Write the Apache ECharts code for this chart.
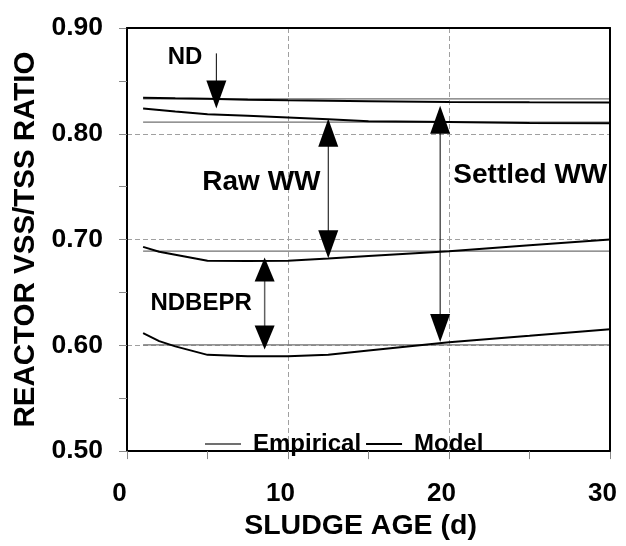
<!DOCTYPE html>
<html>
<head>
<meta charset="utf-8">
<script src="https://cdn.jsdelivr.net/npm/echarts@6/dist/echarts.min.js"></script>
<style>
  html, body { margin: 0; padding: 0; background: #fff; }
  #chart { width: 626px; height: 546px; }
</style>
</head>
<body>
<div id="chart"></div>
<script>
// Sludge ages (d) at which the model curves are tabulated
const sludgeAge = [1, 2, 3, 5, 7.5, 10, 12.5, 15, 20, 25, 30];

// Model VSS/TSS ratios
const ndSettledModel     = [0.8340, 0.8338, 0.8335, 0.8332, 0.8322, 0.8316, 0.8312, 0.8308, 0.8300, 0.8297, 0.8295];
const ndRawModel         = [0.8240, 0.8225, 0.8210, 0.8185, 0.8170, 0.8155, 0.8138, 0.8118, 0.8112, 0.8103, 0.8100];
const ndbeprRawModel     = [0.6931, 0.6885, 0.6857, 0.6800, 0.6798, 0.6800, 0.6822, 0.6845, 0.6890, 0.6945, 0.7000];
const ndbeprSettledModel = [0.6115, 0.6040, 0.5990, 0.5910, 0.5896, 0.5896, 0.5910, 0.5950, 0.6030, 0.6090, 0.6153];

// Empirical ratios (constant over the sludge age range)
const empiricalAge           = [1, 30];
const ndSettledEmpirical     = [0.833, 0.833];
const ndRawEmpirical         = [0.811, 0.811];
const ndbeprRawEmpirical     = [0.689, 0.689];
const ndbeprSettledEmpirical = [0.6005, 0.6005];

// Arrows: sludge age, upper end, lower end, head at upper end too
const arrowAge    = [5.55, 12.5, 19.45, 8.55];
const arrowTop    = [0.876, 0.8142, 0.8266, 0.683];
const arrowBottom = [0.824, 0.6823, 0.6032, 0.596];
const arrowDouble = [0, 1, 1, 1];

// Text annotations
const noteText  = ['ND', 'Raw WW', 'Settled WW', 'NDBEPR'];
const noteAge   = [3.6, 8.35, 25.05, 4.6];
const noteValue = [0.8726, 0.754, 0.7605, 0.6395];
const noteSize  = [24, 28, 28, 24];

const FONT = 'Arial, "Liberation Sans", Helvetica, sans-serif';

const pairs = (xs, ys) => xs.map((x, i) => [x, ys[i]]);

const empiricalStyle = { color: '#707070', width: 1.2 };
const modelStyle = { color: '#000000', width: 2 };

function lineSeries(name, xs, ys, style, z) {
  return {
    name: name,
    type: 'line',
    data: pairs(xs, ys),
    symbol: 'none',
    lineStyle: style,
    itemStyle: { color: style.color },
    z: z,
    silent: true,
    animation: false
  };
}

const arrowData = arrowAge.map((a, i) => [a, arrowTop[i], arrowBottom[i], arrowDouble[i], i]);
const noteData = noteAge.map((a, i) => [a, noteValue[i], i]);

const chart = echarts.init(document.getElementById('chart'), null, { renderer: 'canvas' });

const option = {
  animation: false,
  backgroundColor: '#ffffff',
  grid: { left: 127, right: 16, top: 28, bottom: 88, containLabel: false },
  xAxis: [{
    type: 'value',
    min: 0, max: 30, interval: 10,
    name: 'SLUDGE AGE (d)',
    nameLocation: 'middle',
    nameGap: 60,
    nameTextStyle: { fontFamily: FONT, fontWeight: 'bold', fontSize: 28.5, color: '#000', padding: [0, 16, 0, 0] },
    axisLine: { show: true, onZero: false, lineStyle: { color: '#000', width: 2 } },
    axisTick: { show: true, length: 8, lineStyle: { color: '#888', width: 1 } },
    minorTick: { show: true, splitNumber: 2, length: 8, lineStyle: { color: '#888', width: 1 } },
    axisLabel: { fontFamily: FONT, fontWeight: 'bold', fontSize: 26, color: '#000', margin: 30, padding: [0, 15, 0, 0] },
    splitLine: { show: true, showMinLine: false, showMaxLine: false, lineStyle: { color: '#a0a0a0', width: 1, type: [5, 3] } }
  }, {
    type: 'value', position: 'top', min: 0, max: 30, z: 5,
    axisLine: { show: true, onZero: false, lineStyle: { color: '#000', width: 2 } },
    axisTick: { show: false }, axisLabel: { show: false }, splitLine: { show: false }
  }],
  yAxis: [{
    type: 'value',
    min: 0.5, max: 0.9, interval: 0.1,
    name: 'REACTOR VSS/TSS RATIO',
    nameLocation: 'middle',
    nameGap: 85,
    nameRotate: 90,
    nameTextStyle: { fontFamily: FONT, fontWeight: 'bold', fontSize: 29.5, color: '#000' },
    axisLine: { show: true, onZero: false, lineStyle: { color: '#000', width: 2 } },
    axisTick: { show: true, length: 8, lineStyle: { color: '#888', width: 1 } },
    minorTick: { show: true, splitNumber: 2, length: 8, lineStyle: { color: '#888', width: 1 } },
    axisLabel: { fontFamily: FONT, fontWeight: 'bold', fontSize: 26.5, color: '#000', margin: 24,
      formatter: v => v.toFixed(2) },
    splitLine: { show: true, showMinLine: false, showMaxLine: false, lineStyle: { color: '#a0a0a0', width: 1, type: [5, 3] } }
  }, {
    type: 'value', position: 'right', min: 0.5, max: 0.9, z: 5,
    axisLine: { show: true, onZero: false, lineStyle: { color: '#000', width: 2 } },
    axisTick: { show: false }, axisLabel: { show: false }, splitLine: { show: false }
  }],
  legend: {
    data: [
      { name: 'Empirical', icon: 'rect', itemStyle: { color: '#707070' } },
      { name: 'Model', icon: 'rect', itemStyle: { color: '#000' } }
    ],
    left: 200, top: 427,
    itemWidth: 36, itemHeight: 2, itemGap: 5,
    textStyle: { fontFamily: FONT, fontWeight: 'bold', fontSize: 24, color: '#000', padding: [0, 0, 0, 7] },
    selectedMode: false
  },
  series: [
    lineSeries('Empirical', empiricalAge, ndSettledEmpirical, empiricalStyle, 2),
    lineSeries('Empirical', empiricalAge, ndRawEmpirical, empiricalStyle, 2),
    lineSeries('Empirical', empiricalAge, ndbeprRawEmpirical, empiricalStyle, 2),
    lineSeries('Empirical', empiricalAge, ndbeprSettledEmpirical, empiricalStyle, 2),
    lineSeries('Model', sludgeAge, ndSettledModel, modelStyle, 3),
    lineSeries('Model', sludgeAge, ndRawModel, modelStyle, 3),
    lineSeries('Model', sludgeAge, ndbeprRawModel, modelStyle, 3),
    lineSeries('Model', sludgeAge, ndbeprSettledModel, modelStyle, 3),
    {
      type: 'custom',
      name: 'arrows',
      silent: true,
      z: 4,
      data: arrowData,
      renderItem: function (params, api) {
        const idx = api.value(4);
        const top = api.coord([api.value(0), api.value(1)]);
        const bot = api.coord([api.value(0), api.value(2)]);
        const dbl = api.value(3) === 1;
        const x = top[0];
        const small = idx === 3;
        const w = 20;
        const L = small ? 24 : 28;
        const shaftColor = small ? '#606060' : '#000';
        const children = [{
          type: 'line',
          shape: { x1: x, y1: top[1] + (dbl ? L - 2 : 0), x2: x, y2: bot[1] - L + 2 },
          style: { stroke: shaftColor, lineWidth: small ? 1.5 : 1 }
        }, {
          type: 'polygon',
          shape: { points: [[x, bot[1]], [x - w / 2, bot[1] - L], [x + w / 2, bot[1] - L]] },
          style: { fill: '#000' }
        }];
        if (dbl) {
          children.push({
            type: 'polygon',
            shape: { points: [[x, top[1]], [x - w / 2, top[1] + L], [x + w / 2, top[1] + L]] },
            style: { fill: '#000' }
          });
        }
        return { type: 'group', children: children };
      }
    },
    {
      type: 'custom',
      name: 'notes',
      silent: true,
      z: 4,
      data: noteData,
      renderItem: function (params, api) {
        const idx = api.value(2);
        const p = api.coord([api.value(0), api.value(1)]);
        return {
          type: 'text',
          x: p[0], y: p[1],
          style: {
            text: noteText[idx],
            align: 'center', verticalAlign: 'middle',
            fill: '#000',
            font: 'bold ' + noteSize[idx] + 'px ' + FONT
          }
        };
      }
    }
  ]
};

chart.setOption(option);
</script>
</body>
</html>
